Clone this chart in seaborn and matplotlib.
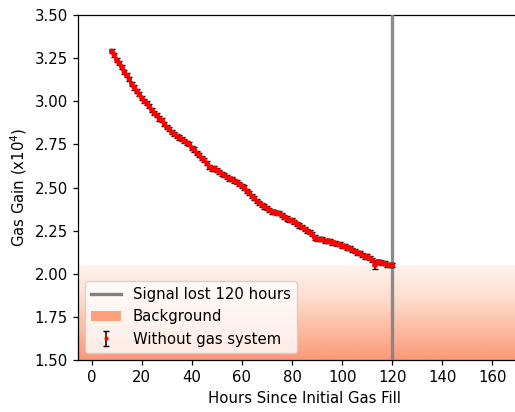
import numpy as np
import pandas as pd
import matplotlib
matplotlib.use("Agg")
import matplotlib.pyplot as plt
import seaborn as sns
from matplotlib.lines import Line2D
from matplotlib.patches import Patch

hours = list(range(8, 121))
gain = [3.29, 3.27, 3.24, 3.22, 3.20, 3.17, 3.15, 3.13, 3.10, 3.08,
        3.06, 3.04, 3.02, 3.00, 2.99, 2.97, 2.95, 2.93, 2.92, 2.90,
        2.89, 2.87, 2.85, 2.84, 2.82, 2.81, 2.80, 2.79, 2.78, 2.77,
        2.76, 2.75, 2.73, 2.72, 2.70, 2.69, 2.67, 2.66, 2.64, 2.62,
        2.61, 2.61, 2.60, 2.59, 2.58, 2.57, 2.56, 2.55, 2.55, 2.54,
        2.53, 2.52, 2.51, 2.50, 2.48, 2.47, 2.45, 2.44, 2.42, 2.41,
        2.40, 2.39, 2.38, 2.37, 2.36, 2.36, 2.35, 2.35, 2.34, 2.33,
        2.32, 2.31, 2.31, 2.30, 2.29, 2.28, 2.27, 2.26, 2.25, 2.24,
        2.23, 2.21, 2.20, 2.20, 2.20, 2.19, 2.19, 2.19, 2.18, 2.18,
        2.17, 2.17, 2.16, 2.16, 2.15, 2.15, 2.14, 2.13, 2.12, 2.12,
        2.11, 2.10, 2.10, 2.09, 2.08, 2.05, 2.07, 2.07, 2.06, 2.06,
        2.05, 2.05, 2.05]
gain_err = [0.012] * 105 + [0.025] + [0.012] * 7

signal_lost_hour = 120
background_top = 2.05

df = pd.DataFrame({"hours": hours, "gain": gain, "err": gain_err})

plt.rcParams["font.size"] = 10.7
plt.rcParams["axes.linewidth"] = 0.9
plt.rcParams["xtick.major.width"] = 0.9
plt.rcParams["ytick.major.width"] = 0.9
plt.rcParams["xtick.major.size"] = 3.8
plt.rcParams["ytick.major.size"] = 3.8

fig = plt.figure(figsize=(5.15, 4.12), dpi=100)
ax = fig.add_axes([78 / 515, 52 / 412, 452 / 515, 345 / 412])

grad = np.linspace(0.36, 0.02, 256)[:, None]
ax.imshow(grad, extent=[-20, 200, 1.5, background_top], aspect="auto",
          cmap="Reds", vmin=0, vmax=1, origin="lower", zorder=0)

ax.axvline(signal_lost_hour, color="gray", lw=2.4, alpha=0.9, zorder=3)

ax.errorbar(df["hours"], df["gain"], yerr=df["err"], fmt=".", color="red",
            ecolor="black", elinewidth=1.1, capsize=2.2, markersize=5, zorder=4)
sns.scatterplot(data=df, x="hours", y="gain", color="red", s=14,
                edgecolor="none", ax=ax, zorder=5)

ax.set_xlim(-5.4, 175)
ax.set_ylim(1.5, 3.5)
ax.set_xticks(range(0, 161, 20))
ax.set_yticks(np.arange(1.5, 3.51, 0.25))
ax.set_xlabel("Hours Since Initial Gas Fill")
ax.set_ylabel(r"Gas Gain (x10$^4$)")

eb = ax.errorbar([np.nan], [np.nan], yerr=[np.nan], fmt=".", color="red",
                 ecolor="black", elinewidth=1.1, capsize=2.2, markersize=4)
handles = [Line2D([0], [0], color="gray", lw=2.4),
           Patch(facecolor="#FFA07A"),
           eb]
labels = ["Signal lost 120 hours", "Background", "Without gas system"]
ax.legend(handles, labels, loc="lower left")

fig.savefig("out.png", dpi=100)
